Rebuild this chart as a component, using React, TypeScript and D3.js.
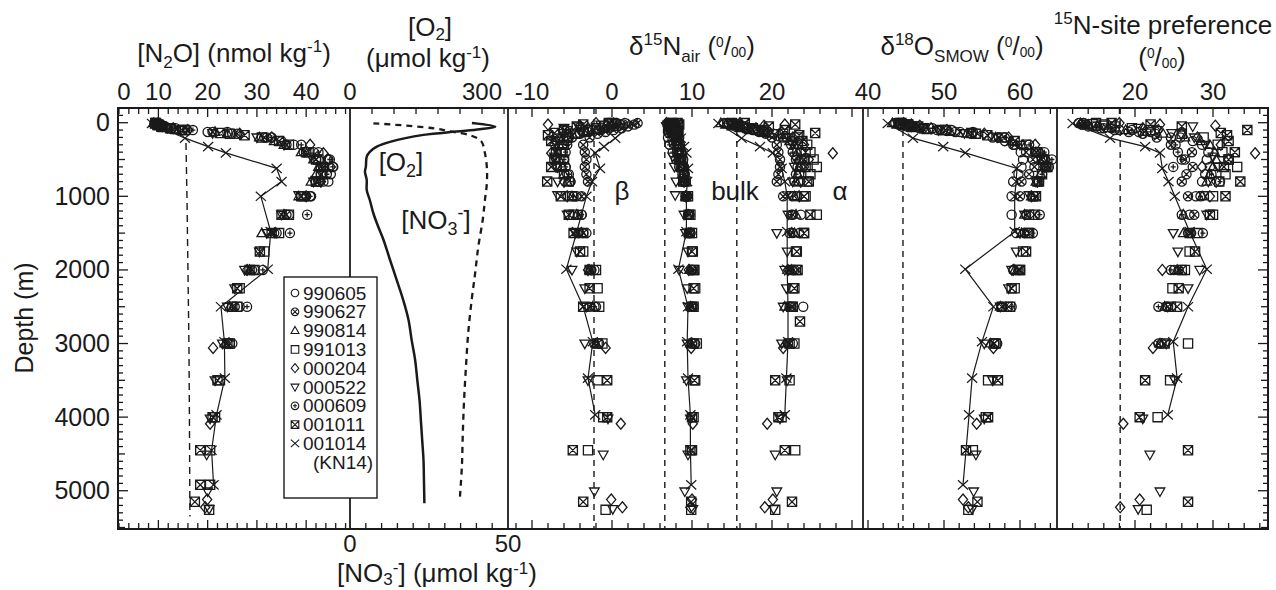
import React from "react";
import * as d3 from "d3";

type Row = (number | null)[];

// columns: depth (m), [N2O] (nmol/kg), d15N bulk, d15N alpha, d15N beta, d18O, 15N site preference
const c990605: Row[] = [
  [5, 9.2, 7.2, 14.0, 0.6, 43.6, 13.4], [25, 9.6, 7.4, 14.6, 1.4, 44.2, 13.2],
  [50, 10.4, 7.6, 15.4, 0.8, 45.1, 14.6], [75, 12.0, 7.7, 16.6, -0.4, 46.8, 16.0],
  [100, 15.0, 7.9, 17.8, -1.6, 49.1, 18.0], [125, 20.0, 8.0, 19.0, -3.0, 51.5, 20.5],
  [150, 25.0, 8.1, 20.2, -4.0, 53.6, 22.6], [200, 32.0, 8.0, 21.8, -5.4, 56.4, 25.8],
  [250, 35.0, 8.1, 22.6, -5.6, 58.0, 27.4], [300, 37.5, 8.2, 23.2, -6.2, 59.1, 28.6],
  [400, 41.5, 8.4, 23.6, -6.4, 60.1, 29.4], [500, 44.5, 8.6, 23.8, -6.0, 60.4, 29.2],
  [600, 45.5, 8.8, 23.6, -5.8, 60.2, 29.6], [700, 45.0, 9.0, 23.4, -5.6, 59.8, 29.0],
  [800, 44.5, 9.2, 23.3, -5.2, 59.1, 28.6], [1000, 41.0, 9.4, 23.1, -4.4, 58.9, 27.8],
  [1250, 36.5, 9.7, 23.6, -3.8, 58.9, 27.0], [1500, 34.0, 9.8, 23.4, -3.2, 59.5, 26.8],
  [2000, 29.5, 10.1, 22.8, -2.2, 59.1, 25.0], [2500, 26.5, 10.2, 23.9, -2.0, 57.6, 24.0],
  [3000, 25.0, 10.4, 22.6, -1.6, 57.0, 23.4],
];

const c990627: Row[] = [
  [5, 9.8, 7.8, 15.2, 3.2, 44.4, 13.4], [25, 10.2, 7.9, 15.6, 2.8, 45.1, 13.2],
  [50, 11.0, 8.0, 16.0, 2.0, 45.9, 14.0], [75, 12.6, 8.1, 16.8, 1.2, 47.2, 15.6],
  [100, 15.8, 8.2, 17.6, 0.2, 49.5, 17.4], [125, 21.0, 8.3, 18.4, -0.8, 52.1, 19.2],
  [150, 26.0, 8.3, 19.2, -1.8, 54.4, 21.0], [200, 31.5, 8.4, 20.0, -2.8, 57.2, 22.8],
  [300, 36.0, 8.5, 20.6, -3.6, 59.3, 24.6], [400, 39.5, 8.7, 20.8, -3.4, 60.8, 27.3],
  [500, 42.0, 8.9, 21.0, -3.2, 61.7, 26.4], [600, 43.5, 9.0, 21.0, -3.4, 61.9, 27.4],
  [700, 43.0, 9.1, 20.8, -3.2, 61.2, 26.6], [800, 42.5, 9.2, 20.6, -3.0, 60.2, 26.0],
  [1000, 40.0, 9.4, 21.4, -3.8, 60.0, 26.8], [1250, 36.0, 9.6, 22.6, -4.2, 60.8, 27.6],
  [1500, 33.5, 9.8, 22.6, -3.6, 60.6, 27.2], [2000, 29.0, 10.0, 22.2, -2.6, 59.8, 25.6],
  [2500, 25.5, 9.9, 22.4, -2.8, 58.5, 24.2], [3000, 24.5, 10.0, 22.0, -2.2, 56.6, 23.0],
];

const c990814: Row[] = [
  [5, 9.0, 7.0, 13.6, 0.2, 43.2, 13.0], [25, 9.4, 7.1, 14.2, 0.0, 43.8, 14.0],
  [50, 10.0, 7.3, 15.0, -0.4, 44.7, 15.2], [75, 11.0, 7.5, 16.0, -1.0, 45.9, 16.6],
  [100, 13.5, 7.7, 17.2, -2.0, 47.8, 18.8], [125, 21.5, 7.8, 18.6, -3.2, 50.8, 21.2],
  [150, 24.0, 7.9, 19.8, -4.4, 53.0, 23.6], [200, 30.5, 7.9, 21.4, -5.6, 56.8, 26.4],
  [250, 33.5, 8.0, 22.2, -6.4, 58.9, 28.4], [300, 35.5, 8.1, 22.8, -6.6, 60.4, 29.6],
  [400, 39.0, 8.3, 23.2, -6.8, 62.1, 30.2], [500, 41.5, 8.4, 23.4, -6.6, 62.9, 30.4],
  [600, 42.5, 8.6, 23.4, -6.2, 63.4, 30.0], [700, 42.0, 8.8, 23.2, -6.0, 62.7, 29.6],
  [800, 41.0, 9.0, 23.0, -5.6, 62.1, 29.2], [1000, 38.5, 9.2, 22.8, -5.0, 61.5, 28.6],
  [1250, 35.5, 9.5, 23.0, -4.4, 60.6, 26.2], [1500, 31.0, 9.6, 22.8, -3.8, 60.2, 26.2],
  [2000, 28.5, 9.7, 22.4, -2.8, 59.3, 25.4], [2500, 24.5, 9.8, 21.6, -2.4, 57.4, 23.8],
  [3000, 23.5, 9.8, 21.6, -2.0, 56.1, 23.2],
];

const c991013: Row[] = [
  [5, 9.4, 7.6, 15.0, 0.0, 44.2, 15.0], [25, 9.8, 7.7, 15.6, -0.4, 44.9, 16.0],
  [50, 10.6, 7.8, 16.4, -1.0, 45.7, 17.4], [75, 12.4, 7.9, 17.6, -2.0, 47.4, 19.6],
  [100, 15.4, 8.0, 19.0, -3.0, 49.8, 22.0], [150, 24.5, 8.1, 21.4, -4.6, 54.2, 26.0],
  [200, 31.0, 8.2, 23.2, -5.6, 57.6, 28.8], [300, 36.5, 8.3, 24.4, -6.0, 60.8, 30.6],
  [400, 40.5, 8.4, 24.8, -6.2, 62.3, 31.2], [500, 42.5, 8.6, 25.2, -6.0, 63.2, 32.0],
  [600, 43.5, 8.8, 25.6, -6.4, 63.6, 33.1], [700, 43.0, 9.0, 24.8, -6.0, 62.9, 31.6],
  [800, 42.0, 9.2, 24.4, -5.4, 62.3, 30.8], [1000, 39.5, 9.5, 24.2, -5.0, 61.7, 30.0],
  [1250, 36.5, 9.8, 25.6, -4.8, 61.2, 30.0], [1500, 34.5, 10.0, 24.0, -3.6, 61.0, 28.0],
  [1750, 31.5, 10.1, 23.0, -3.6, 60.4, 27.0], [2000, 29.5, 10.2, 23.0, -2.0, 60.0, 26.4],
  [2250, 26.5, 10.4, 22.6, -1.8, 59.3, 24.8], [2500, 26.0, 10.2, 22.4, -1.6, 58.7, 24.6],
  [3000, 24.5, 10.6, 22.8, -1.2, 56.8, 26.8], [3500, 22.5, 10.4, 22.2, -1.8, 55.8, 24.5],
  [4000, 21.5, 10.2, 21.2, -1.1, 55.5, 22.9], [4450, 20.5, 9.8, 22.9, -3.0, 53.8, null],
  [4920, 20.5, null, null, null, null, null], [5260, 20.3, 9.9, 20.4, -0.8, 53.2, 21.5],
];

const c000204: Row[] = [
  [5, 10.0, 6.8, 16.0, -2.0, 44.7, 18.0], [25, 10.5, 7.0, 21.6, -8.0, 45.7, 23.2],
  [40, 11.0, 7.2, 19.0, -4.0, 46.8, 30.3], [75, 13.0, 7.4, 18.0, -3.0, 48.3, 21.0],
  [100, 16.0, 7.6, 19.0, -4.0, 50.4, 23.0], [150, 26.5, 7.8, 21.0, -5.4, 55.3, 26.0],
  [200, 33.0, 8.0, 22.6, -6.4, 58.5, 28.0], [300, 40.8, 8.2, 24.0, -7.2, 62.0, 31.0],
  [415, 43.5, 8.4, 27.6, -7.6, 62.7, 35.4], [500, 44.5, 8.6, 24.6, -7.0, 63.4, 32.0],
  [600, 45.0, 8.8, 24.0, -6.8, 63.2, 28.6], [800, 43.0, 9.0, 23.6, -6.0, 62.3, 30.4],
  [1000, 40.0, 9.2, 23.4, -5.6, 61.5, 29.6], [2000, 28.0, 9.6, 22.0, -3.0, 59.1, 23.5],
  [3060, 21.1, 9.9, 21.4, -0.8, 56.5, 22.3], [4090, 20.5, 10.1, 19.4, 1.1, 54.3, 18.5],
  [5120, 19.9, 10.0, 20.1, -0.1, 52.5, 20.6], [5225, 19.5, 9.8, 19.1, 1.3, 53.2, 18.1],
];

const c000522: Row[] = [
  [5, 9.6, 7.2, 14.8, 0.4, 43.8, 14.6], [25, 10.0, 7.0, 15.4, -1.4, 44.7, 16.0],
  [50, 10.8, 6.8, 16.4, -4.2, 45.7, 27.4], [70, 11.8, 7.0, 17.4, -6.0, 47.2, 20.4],
  [100, 14.5, 7.2, 18.6, -5.6, 49.3, 22.8], [140, 21.0, 7.4, 20.4, -6.2, 52.7, 24.7],
  [200, 30.0, 7.5, 22.0, -6.8, 57.0, 27.6], [300, 35.5, 7.6, 22.6, -7.0, 60.0, 29.0],
  [460, 41.0, 7.6, 22.8, -7.2, 62.5, 30.0], [600, 43.0, 7.8, 22.8, -7.0, 63.2, 30.6],
  [800, 41.5, 8.0, 22.6, -6.8, 62.1, 29.4], [985, 38.5, 7.9, 22.4, -6.8, 61.2, 28.8],
  [1250, 35.0, 9.0, 22.0, -5.6, 60.6, 29.2], [1500, 32.0, 9.2, 20.6, -4.6, 60.0, 24.9],
  [1750, 30.5, 9.5, 21.9, -4.4, 59.5, 25.5], [2000, 27.5, 8.4, 21.6, -5.0, 58.9, 28.3],
  [2250, 25.5, 9.4, 21.8, -3.4, 58.5, 26.8], [2500, 24.0, 9.5, 21.4, -3.2, 57.4, 24.2],
  [3000, 23.0, 9.4, 21.2, -3.4, 55.3, 24.0], [3500, 21.5, 9.3, 21.9, -3.0, 56.4, 25.1],
  [4020, 20.5, 9.8, 21.0, -0.5, 55.3, 21.0], [4510, 19.8, 9.5, 20.4, -1.1, 54.2, 21.9],
  [5010, 20.0, 9.1, 20.6, -2.2, 53.9, 23.2], [5250, 20.3, 10.1, 20.2, 0.1, 53.7, 20.4],
];

const c000609: Row[] = [
  [5, 9.8, 7.4, 14.4, 1.6, 44.0, 12.8], [25, 10.4, 7.3, 15.0, 1.0, 44.9, 13.6],
  [50, 11.4, 7.2, 15.8, 0.2, 46.4, 15.0], [75, 13.5, 7.1, 17.0, -1.2, 48.5, 17.0],
  [100, 17.0, 7.0, 18.2, -2.4, 51.0, 19.6], [125, 24.0, 7.0, 19.4, -3.6, 53.8, 22.0],
  [200, 33.0, 7.0, 21.4, -5.0, 58.0, 24.6], [300, 39.0, 7.2, 22.4, -5.6, 61.2, 25.2],
  [400, 42.5, 7.6, 22.6, -5.8, 63.2, 25.5], [500, 44.8, 8.0, 23.0, -6.0, 64.2, 26.0],
  [600, 45.4, 8.4, 23.2, -5.8, 63.8, 24.9], [700, 44.2, 8.8, 23.0, -5.4, 62.9, 29.8],
  [800, 43.5, 9.0, 22.8, -5.2, 62.5, 30.9], [1000, 40.8, 9.3, 22.6, -4.8, 61.9, 28.4],
  [1250, 40.2, 9.5, 22.4, -3.8, 62.6, 26.0], [1500, 36.7, 9.6, 22.2, -4.2, 61.7, 28.7],
  [2000, 31.2, 9.9, 22.6, -2.6, 60.0, 24.6], [2500, 28.0, 10.0, 22.2, -2.2, 58.9, 23.0],
];

const c001011: Row[] = [
  [5, 9.4, 8.2, 16.6, -0.4, 44.4, 17.0], [25, 9.8, 8.4, 22.9, -3.6, 45.3, 22.0],
  [50, 10.6, 8.3, 19.6, -4.4, 46.6, 26.0], [100, 14.8, 8.2, 21.6, -6.0, 50.2, 34.4],
  [140, 22.5, 8.1, 25.4, -7.2, 53.6, 31.0], [170, 27.5, 8.0, 23.4, -8.0, 55.7, 31.8],
  [250, 34.5, 8.1, 23.8, -7.6, 59.3, 32.0], [400, 40.0, 8.2, 24.2, -7.0, 62.1, 32.8],
  [500, 42.0, 8.4, 24.0, -7.2, 62.9, 32.0], [600, 43.0, 8.6, 24.2, -7.6, 63.4, 31.4],
  [800, 42.0, 8.9, 24.6, -8.1, 62.5, 33.5], [1000, 39.0, 9.2, 24.0, -6.4, 62.1, 31.6],
  [1250, 35.0, 9.6, 24.8, -5.4, 61.9, 29.6], [1500, 33.0, 9.7, 24.0, -4.8, 61.2, 27.0],
  [1750, 30.6, 10.0, 23.1, -4.0, 60.8, 27.7], [2000, 28.5, 10.3, 23.2, -2.8, 60.0, 26.0],
  [2250, 26.0, 10.2, 22.8, -2.8, 58.9, 25.6], [2500, 25.0, 10.0, 22.6, -3.6, 57.6, 25.4],
  [2700, null, null, 23.5, null, null, null], [3000, 24.0, 10.2, 22.2, -1.8, 56.6, 23.8],
  [3500, 22.0, 10.3, 20.4, -0.6, 57.1, 21.3], [4000, 21.0, 10.0, 20.8, -0.6, 55.8, 20.6],
  [4450, 18.5, 10.0, 21.6, -4.9, 52.9, 26.8], [4920, 18.5, null, null, null, null, null],
  [5150, 17.4, 9.9, 22.5, -3.6, 54.4, 26.8],
];

// KN14 cruise (001014), drawn as a connected profile
const c001014: Row[] = [
  [10, 8.7, 8.1, 13.3, 2.6, 42.6, 12.0], [210, 15.4, 8.6, 16.2, 0.4, 45.9, 16.8],
  [325, 20.1, 9.0, 18.5, -1.0, 49.9, 21.3], [410, 23.7, 9.3, 20.1, -2.1, 52.8, 23.2],
  [620, 34.0, 9.5, 21.2, -1.5, 59.6, 23.5], [800, 35.0, 9.4, 21.6, -2.5, 59.5, 24.3],
  [1000, 30.8, 9.3, 21.9, -3.2, 59.3, 25.1], [1480, 32.8, 9.3, 21.9, -4.4, 59.3, 27.0],
  [1990, 32.2, 8.3, 21.9, -5.7, 52.8, 29.2], [2500, 22.7, 9.5, 22.0, -3.6, 56.5, 26.8],
  [2975, 23.4, 9.4, 22.0, -2.4, 55.0, 24.9], [3470, 23.5, 9.5, 21.8, -3.0, 53.7, 25.4],
  [3970, 21.8, 9.8, 21.6, -2.1, 53.3, 24.2], [4450, 20.8, 9.8, null, null, 52.9, null],
  [4920, 21.2, 9.9, null, null, 52.5, null],
];

// oxygen and nitrate profiles
const o2Depth = [5, 55, 90, 120, 165, 260, 325, 395, 460, 600, 665, 780, 915, 1050, 1230, 1410, 1590, 1865, 2135, 2410, 2680, 2950, 3225, 3500, 3770, 4040, 4310, 4585, 4855, 5170];
const o2Value = [277, 330, 295, 242, 167, 91, 61, 45, 38, 36, 34, 38, 38, 45, 53, 64, 76, 91, 106, 121, 133, 140, 148, 153, 158, 161, 164, 167, 168, 169];
const no3Depth = [8, 40, 80, 120, 170, 250, 415, 600, 825, 1050, 1320, 1685, 2045, 2410, 2860, 3315, 3770, 4220, 4675, 5080];
const no3Value = [7.4, 18.0, 27.0, 32.0, 38.0, 41.5, 42.7, 43.3, 43.3, 42.7, 42.0, 40.6, 39.6, 38.5, 37.4, 36.7, 36.1, 35.7, 35.4, 34.8];

// N2O at equilibrium with the atmosphere
const satDepth = [275, 1000, 2000, 3000, 4000, 5350];
const satValue = [15.6, 15.8, 16.0, 16.2, 16.3, 16.4];

// tropospheric reference values (dashed lines)
const tropD15 = [-2.25, 6.6, 15.6]; // beta, bulk, alpha
const tropD18 = 44.6;
const tropSP = 18.1;

const legendLabels = ["990605", "990627", "990814", "991013", "000204", "000522", "000609", "001011", "001014"];
const symbolKinds = ["circle", "circleX", "triUp", "square", "diamond", "triDown", "circlePlus", "squareX", "cross"];
const cruises = [c990605, c990627, c990814, c991013, c000204, c000522, c000609, c001011];

const depthTicks = [0, 1000, 2000, 3000, 4000, 5000];

const FONT = "'Liberation Sans', Arial, Helvetica, sans-serif";
const INK = "#1a1a1a";

function symbolPath(kind: string, cx: number, cy: number, r: number): string {
  const p = d3.path();
  const circle = () => { p.moveTo(cx + r, cy); p.arc(cx, cy, r, 0, Math.PI * 2); };
  const q = r * 0.68;
  switch (kind) {
    case "circle": circle(); break;
    case "circleX":
      circle();
      p.moveTo(cx - q, cy - q); p.lineTo(cx + q, cy + q);
      p.moveTo(cx - q, cy + q); p.lineTo(cx + q, cy - q);
      break;
    case "circlePlus":
      circle();
      p.moveTo(cx - r * 0.55, cy); p.lineTo(cx + r * 0.55, cy);
      p.moveTo(cx, cy - r * 0.55); p.lineTo(cx, cy + r * 0.55);
      break;
    case "triUp":
      p.moveTo(cx, cy - r * 1.1); p.lineTo(cx + r * 1.05, cy + r * 0.75); p.lineTo(cx - r * 1.05, cy + r * 0.75); p.closePath();
      break;
    case "triDown":
      p.moveTo(cx, cy + r * 1.1); p.lineTo(cx + r * 1.05, cy - r * 0.75); p.lineTo(cx - r * 1.05, cy - r * 0.75); p.closePath();
      break;
    case "square": p.rect(cx - r, cy - r, 2 * r, 2 * r); break;
    case "squareX":
      p.rect(cx - r, cy - r, 2 * r, 2 * r);
      p.moveTo(cx - r, cy - r); p.lineTo(cx + r, cy + r);
      p.moveTo(cx - r, cy + r); p.lineTo(cx + r, cy - r);
      break;
    case "diamond":
      p.moveTo(cx, cy - r * 1.2); p.lineTo(cx + r, cy); p.lineTo(cx, cy + r * 1.2); p.lineTo(cx - r, cy); p.closePath();
      break;
    case "cross":
      p.moveTo(cx - r * 1.1, cy - r); p.lineTo(cx + r * 1.1, cy + r);
      p.moveTo(cx - r * 1.1, cy + r); p.lineTo(cx + r * 1.1, cy - r);
      break;
  }
  return p.toString();
}

const PerMil = ({ size }: { size: number }) => (
  <>
    <tspan>(</tspan>
    <tspan fontSize={size * 0.55} dy={-size * 0.33}>0</tspan>
    <tspan dy={size * 0.33}>/</tspan>
    <tspan fontSize={size * 0.55} dy={size * 0.08}>00</tspan>
    <tspan dy={-size * 0.08}>)</tspan>
  </>
);

export default function App() {
  const top = 108, bottom = 529;
  const left = 118, right = 1268;
  const dividers = [350, 508, 863, 1057];

  const y = d3.scaleLinear().domain([-200, 5520]).range([top, bottom]);
  const xN2O = d3.scaleLinear().domain([1.8, 48.9]).range([left, 350]);
  const xO2 = d3.scaleLinear().domain([0, 359]).range([350, 508]);
  const xNO3 = d3.scaleLinear().domain([0, 50]).range([350, 508]);
  const xD15 = d3.scaleLinear().domain([-13, 31.375]).range([508, 863]);
  const xD18 = d3.scaleLinear().domain([39.34, 64.87]).range([863, 1057]);
  const xSP = d3.scaleLinear().domain([10, 37.05]).range([1057, right]);

  const colScale = [null, xN2O, xD15, xD15, xD15, xD18, xSP];
  const R = 4.6;
  const SW = 1.3;

  // scatter of the eight cruises
  const marks: JSX.Element[] = [];
  cruises.forEach((rows, ci) => {
    rows.forEach((row, ri) => {
      for (let c = 1; c <= 6; c++) {
        const v = row[c];
        if (v === null || v === undefined) continue;
        const sx = colScale[c]!;
        marks.push(
          <path key={`${ci}-${ri}-${c}`} d={symbolPath(symbolKinds[ci], sx(v), y(row[0] as number), R)}
            fill="none" stroke={INK} strokeWidth={SW} />
        );
      }
    });
  });

  // KN14 profile lines with x markers
  const kn: JSX.Element[] = [];
  for (let c = 1; c <= 6; c++) {
    const sx = colScale[c]!;
    const pts = c001014.filter(r => r[c] !== null) as number[][];
    const line = d3.line<number[]>().x(r => sx(r[c])).y(r => y(r[0]));
    kn.push(<path key={`l${c}`} d={line(pts) || ""} fill="none" stroke={INK} strokeWidth={1.2} />);
    pts.forEach((r, i) => kn.push(
      <path key={`k${c}-${i}`} d={symbolPath("cross", sx(r[c]), y(r[0]), 4.6)} fill="none" stroke={INK} strokeWidth={1.2} />
    ));
  }

  const o2Line = d3.line<number>().x((_, i) => xO2(o2Value[i])).y(d => y(d)).curve(d3.curveCatmullRom);
  const no3Line = d3.line<number>().x((_, i) => xNO3(no3Value[i])).y(d => y(d)).curve(d3.curveCatmullRom);
  const satLine = d3.line<number>().x((_, i) => xN2O(satValue[i])).y(d => y(d));

  // axis ticks
  const ticks: JSX.Element[] = [];
  const topTicks = (s: d3.ScaleLinear<number, number>, vals: number[], major: (v: number) => boolean, key: string) => {
    vals.forEach((v, i) => {
      const x = s(v);
      const len = major(v) ? 9 : 6;
      ticks.push(<line key={`t${key}${i}`} x1={x} x2={x} y1={top} y2={top + len} stroke={INK} strokeWidth={1.3} />);
    });
  };
  const bottomTicks = (s: d3.ScaleLinear<number, number>, vals: number[], major: (v: number) => boolean, key: string) => {
    vals.forEach((v, i) => {
      const x = s(v);
      const len = major(v) ? 9 : 6;
      ticks.push(<line key={`b${key}${i}`} x1={x} x2={x} y1={bottom} y2={bottom - len} stroke={INK} strokeWidth={1.3} />);
    });
  };
  const by10 = (v: number) => Math.abs(v % 10) < 1e-6;
  const n2oTickVals = d3.range(2, 49, 2);
  topTicks(xN2O, n2oTickVals, by10, "n");
  bottomTicks(xN2O, n2oTickVals, by10, "n");
  topTicks(xO2, d3.range(50, 359, 50), () => false, "o");
  bottomTicks(xNO3, d3.range(5, 50, 5), () => false, "no3");
  const d15Vals = d3.range(-12, 31.3, 2);
  topTicks(xD15, d15Vals, by10, "d15");
  bottomTicks(xD15, d15Vals, by10, "d15");
  const d18Vals = d3.range(40, 64.8, 2);
  topTicks(xD18, d18Vals, by10, "d18");
  bottomTicks(xD18, d18Vals, by10, "d18");
  const spVals = d3.range(12, 37, 2);
  topTicks(xSP, spVals, by10, "sp");
  bottomTicks(xSP, spVals, by10, "sp");

  d3.range(-100, 5520, 100).forEach((d, i) => {
    const len = d % 1000 === 0 ? 10 : d % 500 === 0 ? 7 : 5;
    ticks.push(<line key={`yl${i}`} x1={left} x2={left + len} y1={y(d)} y2={y(d)} stroke={INK} strokeWidth={1.3} />);
    ticks.push(<line key={`yr${i}`} x1={right} x2={right - len} y1={y(d)} y2={y(d)} stroke={INK} strokeWidth={1.3} />);
  });

  const topLabels: { x: number; t: string }[] = [
    ...[0, 10, 20, 30, 40].map(v => ({ x: Math.max(xN2O(v), 124), t: String(v) })),
    ...[0, 300].map(v => ({ x: xO2(v), t: String(v) })),
    ...[-10, 0, 10, 20].map(v => ({ x: xD15(v), t: String(v) })),
    ...[40, 50, 60].map(v => ({ x: xD18(v), t: String(v) })),
    ...[20, 30].map(v => ({ x: xSP(v), t: String(v) })),
  ];

  const legX = 284, legY = 277, rowH = 18.8;

  return (
    <svg width={1276} height={590} style={{ position: "absolute", left: 0, top: 0, background: "#fff" }} fontFamily={FONT} fill={INK}>
      <rect x={0} y={0} width={1276} height={590} fill="#fff" />

      {/* reference dashed lines */}
      <path d={satLine(satDepth) || ""} fill="none" stroke={INK} strokeWidth={1.4} strokeDasharray="7,5" />
      {tropD15.map((v, i) => (
        <line key={`tr${i}`} x1={xD15(v)} x2={xD15(v)} y1={top} y2={bottom} stroke={INK} strokeWidth={1.4} strokeDasharray="6,5" />
      ))}
      <line x1={xD18(tropD18)} x2={xD18(tropD18)} y1={top} y2={bottom} stroke={INK} strokeWidth={1.4} strokeDasharray="6,5" />
      <line x1={xSP(tropSP)} x2={xSP(tropSP)} y1={top} y2={bottom} stroke={INK} strokeWidth={1.4} strokeDasharray="6,5" />

      {/* O2 and NO3 */}
      <path d={o2Line(o2Depth) || ""} fill="none" stroke={INK} strokeWidth={2.5} />
      <path d={no3Line(no3Depth) || ""} fill="none" stroke={INK} strokeWidth={2.3} strokeDasharray="6,5" />

      {marks}
      {kn}

      {/* frame */}
      <rect x={left} y={top} width={right - left} height={bottom - top} fill="none" stroke={INK} strokeWidth={2} />
      {dividers.map(x => <line key={`d${x}`} x1={x} x2={x} y1={top} y2={bottom} stroke={INK} strokeWidth={1.8} />)}
      {ticks}

      {/* legend */}
      <rect x={legX} y={legY} width={93} height={221} fill="#fff" stroke={INK} strokeWidth={1.4} />
      {legendLabels.map((lab, i) => (
        <g key={lab}>
          <path d={symbolPath(symbolKinds[i], legX + 11, legY + 16 + i * rowH, 3.8)} fill="none" stroke={INK} strokeWidth={1.1} />
          <text x={legX + 19} y={legY + 16 + i * rowH + 6.5} fontSize={19}>{lab}</text>
        </g>
      ))}
      <text x={legX + 29} y={legY + 16 + 9 * rowH + 6.5} fontSize={19}>(KN14)</text>

      {/* tick labels */}
      {topLabels.map((l, i) => (
        <text key={`tl${i}`} x={l.x} y={100} fontSize={24} textAnchor="middle">{l.t}</text>
      ))}
      {depthTicks.map(d => (
        <text key={`yl${d}`} x={110} y={y(d) + 8.5} fontSize={25} textAnchor="end">{d}</text>
      ))}
      {[0, 50].map(v => (
        <text key={`bl${v}`} x={xNO3(v)} y={552} fontSize={24} textAnchor="middle">{v}</text>
      ))}

      {/* axis titles */}
      <text transform="translate(33,318) rotate(-90)" fontSize={25} textAnchor="middle">Depth (m)</text>

      <text x={234} y={62} fontSize={26} textAnchor="middle">
        [N<tspan fontSize={17} dy={6}>2</tspan><tspan dy={-6}>O] (nmol kg</tspan><tspan fontSize={17} dy={-10}>-1</tspan><tspan dy={10}>)</tspan>
      </text>
      <text x={430} y={36} fontSize={26} textAnchor="middle">
        [O<tspan fontSize={17} dy={4}>2</tspan><tspan dy={-4}>]</tspan>
      </text>
      <text x={428} y={67} fontSize={26} textAnchor="middle">
        (μmol kg<tspan fontSize={17} dy={-9}>-1</tspan><tspan dy={9}>)</tspan>
      </text>
      <text x={692} y={55} fontSize={26} textAnchor="middle">
        δ<tspan fontSize={17} dy={-10}>15</tspan><tspan dy={10}>N</tspan><tspan fontSize={17} dy={7}>air</tspan><tspan dy={-7}> </tspan><PerMil size={25} />
      </text>
      <text x={962} y={55} fontSize={26} textAnchor="middle">
        δ<tspan fontSize={17} dy={-10}>18</tspan><tspan dy={10}>O</tspan><tspan fontSize={17} dy={7}>SMOW</tspan><tspan dy={-7}> </tspan><PerMil size={25} />
      </text>
      <text x={1163} y={34} fontSize={26} textAnchor="middle">
        <tspan fontSize={17} dy={-10}>15</tspan><tspan dy={10}>N-site preference</tspan>
      </text>
      <text x={1162} y={66} fontSize={26} textAnchor="middle"><PerMil size={25} /></text>

      <text x={437} y={582} fontSize={26} textAnchor="middle">
        [NO<tspan fontSize={17} dy={3}>3</tspan><tspan fontSize={17} dy={-12}>-</tspan><tspan dy={9}>] (μmol kg</tspan><tspan fontSize={17} dy={-8}>-1</tspan><tspan dy={8}>)</tspan>
      </text>

      {/* in-plot labels */}
      <text x={401} y={171} fontSize={26} textAnchor="middle">
        [O<tspan fontSize={18} dy={6}>2</tspan><tspan dy={-6}>]</tspan>
      </text>
      <text x={436} y={229} fontSize={26} textAnchor="middle">
        [NO<tspan fontSize={18} dy={6}>3</tspan><tspan fontSize={18} dy={-16}>-</tspan><tspan dy={10}>]</tspan>
      </text>
      <text x={622} y={200} fontSize={26} textAnchor="middle">β</text>
      <text x={735} y={200} fontSize={26} textAnchor="middle">bulk</text>
      <text x={840} y={200} fontSize={26} textAnchor="middle">α</text>
    </svg>
  );
}
